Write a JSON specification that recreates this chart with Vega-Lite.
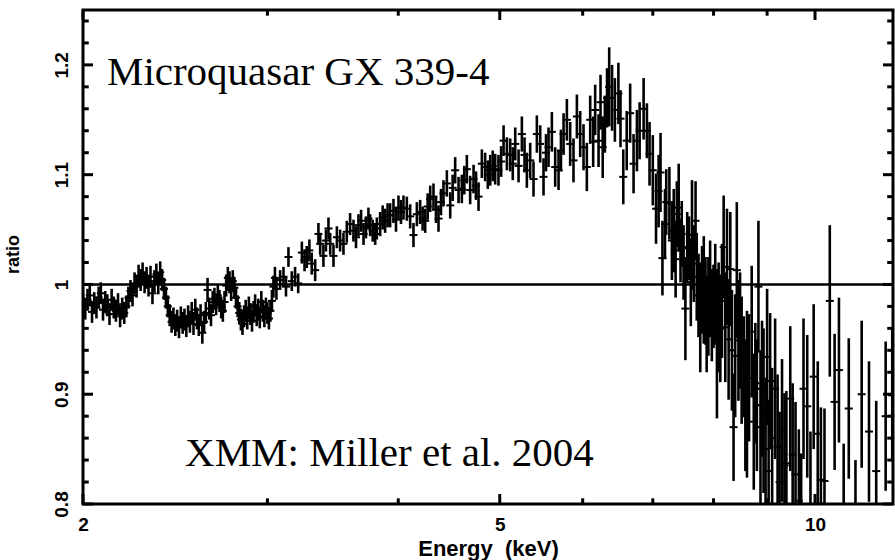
{
  "$schema": "https://vega.github.io/schema/vega-lite/v6.json",
  "width": 810,
  "height": 494,
  "autosize": {"type": "none"},
  "padding": {"left": 83, "top": 10, "right": 2, "bottom": 56},
  "background": "white",
  "config": {
    "view": {"stroke": "black", "strokeWidth": 3},
    "axis": {
      "domain": false,
      "grid": false,
      "ticks": false,
      "labelFont": "Liberation Sans",
      "labelFontWeight": "bold",
      "labelFontSize": 19,
      "labelColor": "black",
      "titleFont": "Liberation Sans",
      "titleFontWeight": "bold",
      "titleFontSize": 20,
      "titleColor": "black"
    },
    "rule": {"color": "black", "strokeWidth": 3}
  },
  "datasets": {
    "energyMajor": [{"at": 2}, {"at": 5}, {"at": 10}],
    "energyMinor": [{"at": 3}, {"at": 4}, {"at": 6}, {"at": 7}, {"at": 8}, {"at": 9}],
    "ratioMajor": [{"at": 0.8}, {"at": 0.9}, {"at": 1.0}, {"at": 1.1}, {"at": 1.2}],
    "ratioMinor": [
      {"at": 0.82}, {"at": 0.84}, {"at": 0.86}, {"at": 0.88}, {"at": 0.92}, {"at": 0.94},
      {"at": 0.96}, {"at": 0.98}, {"at": 1.02}, {"at": 1.04}, {"at": 1.06}, {"at": 1.08},
      {"at": 1.12}, {"at": 1.14}, {"at": 1.16}, {"at": 1.18}, {"at": 1.22}, {"at": 1.24}
    ],
    "spectrum": [
      {"energy": 2.00, "ratio": 0.982, "err": 0.010},
      {"energy": 2.01, "ratio": 0.978, "err": 0.010},
      {"energy": 2.02, "ratio": 0.986, "err": 0.010},
      {"energy": 2.03, "ratio": 0.990, "err": 0.010},
      {"energy": 2.04, "ratio": 0.975, "err": 0.010},
      {"energy": 2.05, "ratio": 0.983, "err": 0.010},
      {"energy": 2.06, "ratio": 0.979, "err": 0.010},
      {"energy": 2.07, "ratio": 0.988, "err": 0.010},
      {"energy": 2.08, "ratio": 0.992, "err": 0.010},
      {"energy": 2.09, "ratio": 0.977, "err": 0.010},
      {"energy": 2.10, "ratio": 0.984, "err": 0.010},
      {"energy": 2.11, "ratio": 0.981, "err": 0.010},
      {"energy": 2.12, "ratio": 0.973, "err": 0.010},
      {"energy": 2.13, "ratio": 0.986, "err": 0.010},
      {"energy": 2.14, "ratio": 0.979, "err": 0.010},
      {"energy": 2.15, "ratio": 0.976, "err": 0.010},
      {"energy": 2.16, "ratio": 0.982, "err": 0.010},
      {"energy": 2.17, "ratio": 0.971, "err": 0.010},
      {"energy": 2.18, "ratio": 0.978, "err": 0.010},
      {"energy": 2.19, "ratio": 0.974, "err": 0.010},
      {"energy": 2.20, "ratio": 0.980, "err": 0.010},
      {"energy": 2.21, "ratio": 0.988, "err": 0.010},
      {"energy": 2.22, "ratio": 0.994, "err": 0.010},
      {"energy": 2.23, "ratio": 0.990, "err": 0.010},
      {"energy": 2.24, "ratio": 1.001, "err": 0.010},
      {"energy": 2.25, "ratio": 0.998, "err": 0.010},
      {"energy": 2.26, "ratio": 1.008, "err": 0.010},
      {"energy": 2.27, "ratio": 1.004, "err": 0.010},
      {"energy": 2.28, "ratio": 1.010, "err": 0.010},
      {"energy": 2.29, "ratio": 1.002, "err": 0.010},
      {"energy": 2.30, "ratio": 1.006, "err": 0.010},
      {"energy": 2.31, "ratio": 0.999, "err": 0.010},
      {"energy": 2.32, "ratio": 1.007, "err": 0.010},
      {"energy": 2.33, "ratio": 0.992, "err": 0.010},
      {"energy": 2.34, "ratio": 1.003, "err": 0.010},
      {"energy": 2.35, "ratio": 1.009, "err": 0.010},
      {"energy": 2.36, "ratio": 1.001, "err": 0.010},
      {"energy": 2.37, "ratio": 1.011, "err": 0.010},
      {"energy": 2.38, "ratio": 1.004, "err": 0.010},
      {"energy": 2.39, "ratio": 0.996, "err": 0.010},
      {"energy": 2.40, "ratio": 0.988, "err": 0.010},
      {"energy": 2.41, "ratio": 0.980, "err": 0.010},
      {"energy": 2.42, "ratio": 0.972, "err": 0.010},
      {"energy": 2.43, "ratio": 0.966, "err": 0.010},
      {"energy": 2.44, "ratio": 0.969, "err": 0.010},
      {"energy": 2.45, "ratio": 0.963, "err": 0.010},
      {"energy": 2.46, "ratio": 0.967, "err": 0.010},
      {"energy": 2.47, "ratio": 0.961, "err": 0.010},
      {"energy": 2.48, "ratio": 0.970, "err": 0.010},
      {"energy": 2.49, "ratio": 0.965, "err": 0.010},
      {"energy": 2.50, "ratio": 0.968, "err": 0.010},
      {"energy": 2.51, "ratio": 0.962, "err": 0.010},
      {"energy": 2.52, "ratio": 0.971, "err": 0.010},
      {"energy": 2.53, "ratio": 0.966, "err": 0.010},
      {"energy": 2.54, "ratio": 0.974, "err": 0.010},
      {"energy": 2.55, "ratio": 0.964, "err": 0.010},
      {"energy": 2.56, "ratio": 0.977, "err": 0.010},
      {"energy": 2.57, "ratio": 0.969, "err": 0.010},
      {"energy": 2.58, "ratio": 0.963, "err": 0.010},
      {"energy": 2.59, "ratio": 0.972, "err": 0.010},
      {"energy": 2.60, "ratio": 0.956, "err": 0.010},
      {"energy": 2.61, "ratio": 0.966, "err": 0.010},
      {"energy": 2.62, "ratio": 0.974, "err": 0.010},
      {"energy": 2.63, "ratio": 0.995, "err": 0.011},
      {"energy": 2.64, "ratio": 0.978, "err": 0.010},
      {"energy": 2.65, "ratio": 0.972, "err": 0.010},
      {"energy": 2.66, "ratio": 0.984, "err": 0.010},
      {"energy": 2.67, "ratio": 0.987, "err": 0.010},
      {"energy": 2.68, "ratio": 0.982, "err": 0.010},
      {"energy": 2.69, "ratio": 0.990, "err": 0.010},
      {"energy": 2.70, "ratio": 0.985, "err": 0.010},
      {"energy": 2.71, "ratio": 0.979, "err": 0.010},
      {"energy": 2.72, "ratio": 0.976, "err": 0.010},
      {"energy": 2.73, "ratio": 0.984, "err": 0.010},
      {"energy": 2.74, "ratio": 0.999, "err": 0.010},
      {"energy": 2.75, "ratio": 1.006, "err": 0.010},
      {"energy": 2.76, "ratio": 1.002, "err": 0.010},
      {"energy": 2.77, "ratio": 0.995, "err": 0.010},
      {"energy": 2.78, "ratio": 1.003, "err": 0.010},
      {"energy": 2.79, "ratio": 0.997, "err": 0.010},
      {"energy": 2.80, "ratio": 0.988, "err": 0.010},
      {"energy": 2.81, "ratio": 0.980, "err": 0.010},
      {"energy": 2.82, "ratio": 0.974, "err": 0.010},
      {"energy": 2.83, "ratio": 0.968, "err": 0.010},
      {"energy": 2.84, "ratio": 0.964, "err": 0.010},
      {"energy": 2.85, "ratio": 0.971, "err": 0.010},
      {"energy": 2.86, "ratio": 0.976, "err": 0.010},
      {"energy": 2.87, "ratio": 0.969, "err": 0.010},
      {"energy": 2.88, "ratio": 0.979, "err": 0.010},
      {"energy": 2.89, "ratio": 0.973, "err": 0.010},
      {"energy": 2.90, "ratio": 0.967, "err": 0.010},
      {"energy": 2.91, "ratio": 0.975, "err": 0.010},
      {"energy": 2.92, "ratio": 0.981, "err": 0.010},
      {"energy": 2.93, "ratio": 0.972, "err": 0.010},
      {"energy": 2.94, "ratio": 0.977, "err": 0.010},
      {"energy": 2.95, "ratio": 0.970, "err": 0.010},
      {"energy": 2.96, "ratio": 0.984, "err": 0.010},
      {"energy": 2.97, "ratio": 0.976, "err": 0.010},
      {"energy": 2.98, "ratio": 0.971, "err": 0.010},
      {"energy": 2.99, "ratio": 0.978, "err": 0.010},
      {"energy": 3.00, "ratio": 0.974, "err": 0.010},
      {"energy": 3.01, "ratio": 0.969, "err": 0.010},
      {"energy": 3.02, "ratio": 0.976, "err": 0.010},
      {"energy": 3.03, "ratio": 0.985, "err": 0.010},
      {"energy": 3.04, "ratio": 0.998, "err": 0.010},
      {"energy": 3.05, "ratio": 1.006, "err": 0.010},
      {"energy": 3.06, "ratio": 0.996, "err": 0.010},
      {"energy": 3.085, "ratio": 1.004, "err": 0.009},
      {"energy": 3.108, "ratio": 1.007, "err": 0.009},
      {"energy": 3.125, "ratio": 0.998, "err": 0.009},
      {"energy": 3.142, "ratio": 1.025, "err": 0.009},
      {"energy": 3.165, "ratio": 1.003, "err": 0.009},
      {"energy": 3.188, "ratio": 1.007, "err": 0.009},
      {"energy": 3.210, "ratio": 1.001, "err": 0.009},
      {"energy": 3.236, "ratio": 1.029, "err": 0.010},
      {"energy": 3.255, "ratio": 1.022, "err": 0.010},
      {"energy": 3.271, "ratio": 1.025, "err": 0.010},
      {"energy": 3.290, "ratio": 1.031, "err": 0.010},
      {"energy": 3.307, "ratio": 1.019, "err": 0.010},
      {"energy": 3.332, "ratio": 1.013, "err": 0.010},
      {"energy": 3.356, "ratio": 1.046, "err": 0.010},
      {"energy": 3.369, "ratio": 1.037, "err": 0.010},
      {"energy": 3.393, "ratio": 1.026, "err": 0.010},
      {"energy": 3.412, "ratio": 1.040, "err": 0.010},
      {"energy": 3.431, "ratio": 1.051, "err": 0.010},
      {"energy": 3.444, "ratio": 1.037, "err": 0.010},
      {"energy": 3.469, "ratio": 1.026, "err": 0.010},
      {"energy": 3.495, "ratio": 1.043, "err": 0.010},
      {"energy": 3.520, "ratio": 1.040, "err": 0.010},
      {"energy": 3.546, "ratio": 1.037, "err": 0.010},
      {"energy": 3.572, "ratio": 1.048, "err": 0.010},
      {"energy": 3.598, "ratio": 1.055, "err": 0.010},
      {"energy": 3.625, "ratio": 1.049, "err": 0.010},
      {"energy": 3.645, "ratio": 1.043, "err": 0.010},
      {"energy": 3.665, "ratio": 1.054, "err": 0.010},
      {"energy": 3.686, "ratio": 1.058, "err": 0.010},
      {"energy": 3.706, "ratio": 1.046, "err": 0.010},
      {"energy": 3.726, "ratio": 1.052, "err": 0.010},
      {"energy": 3.746, "ratio": 1.060, "err": 0.010},
      {"energy": 3.760, "ratio": 1.054, "err": 0.010},
      {"energy": 3.781, "ratio": 1.049, "err": 0.010},
      {"energy": 3.802, "ratio": 1.046, "err": 0.010},
      {"energy": 3.816, "ratio": 1.051, "err": 0.010},
      {"energy": 3.844, "ratio": 1.055, "err": 0.011},
      {"energy": 3.865, "ratio": 1.061, "err": 0.011},
      {"energy": 3.886, "ratio": 1.058, "err": 0.011},
      {"energy": 3.907, "ratio": 1.063, "err": 0.011},
      {"energy": 3.929, "ratio": 1.063, "err": 0.011},
      {"energy": 3.958, "ratio": 1.067, "err": 0.011},
      {"energy": 3.980, "ratio": 1.059, "err": 0.011},
      {"energy": 4.002, "ratio": 1.070, "err": 0.011},
      {"energy": 4.024, "ratio": 1.066, "err": 0.011},
      {"energy": 4.046, "ratio": 1.070, "err": 0.011},
      {"energy": 4.076, "ratio": 1.069, "err": 0.011},
      {"energy": 4.106, "ratio": 1.062, "err": 0.011},
      {"energy": 4.136, "ratio": 1.045, "err": 0.011},
      {"energy": 4.167, "ratio": 1.064, "err": 0.011},
      {"energy": 4.197, "ratio": 1.066, "err": 0.011},
      {"energy": 4.220, "ratio": 1.060, "err": 0.011},
      {"energy": 4.244, "ratio": 1.058, "err": 0.011},
      {"energy": 4.267, "ratio": 1.071, "err": 0.012},
      {"energy": 4.291, "ratio": 1.078, "err": 0.012},
      {"energy": 4.322, "ratio": 1.080, "err": 0.012},
      {"energy": 4.346, "ratio": 1.068, "err": 0.012},
      {"energy": 4.370, "ratio": 1.060, "err": 0.012},
      {"energy": 4.394, "ratio": 1.075, "err": 0.012},
      {"energy": 4.418, "ratio": 1.083, "err": 0.012},
      {"energy": 4.451, "ratio": 1.092, "err": 0.012},
      {"energy": 4.484, "ratio": 1.072, "err": 0.012},
      {"energy": 4.508, "ratio": 1.088, "err": 0.012},
      {"energy": 4.533, "ratio": 1.104, "err": 0.012},
      {"energy": 4.567, "ratio": 1.086, "err": 0.012},
      {"energy": 4.600, "ratio": 1.087, "err": 0.013},
      {"energy": 4.625, "ratio": 1.095, "err": 0.013},
      {"energy": 4.651, "ratio": 1.105, "err": 0.013},
      {"energy": 4.685, "ratio": 1.086, "err": 0.013},
      {"energy": 4.720, "ratio": 1.096, "err": 0.013},
      {"energy": 4.746, "ratio": 1.090, "err": 0.013},
      {"energy": 4.772, "ratio": 1.080, "err": 0.013},
      {"energy": 4.807, "ratio": 1.110, "err": 0.013},
      {"energy": 4.842, "ratio": 1.107, "err": 0.013},
      {"energy": 4.870, "ratio": 1.100, "err": 0.013},
      {"energy": 4.896, "ratio": 1.104, "err": 0.014},
      {"energy": 4.923, "ratio": 1.108, "err": 0.014},
      {"energy": 4.950, "ratio": 1.105, "err": 0.014},
      {"energy": 4.986, "ratio": 1.104, "err": 0.014},
      {"energy": 5.015, "ratio": 1.112, "err": 0.014},
      {"energy": 5.042, "ratio": 1.131, "err": 0.014},
      {"energy": 5.079, "ratio": 1.119, "err": 0.015},
      {"energy": 5.116, "ratio": 1.118, "err": 0.015},
      {"energy": 5.145, "ratio": 1.110, "err": 0.015},
      {"energy": 5.173, "ratio": 1.128, "err": 0.015},
      {"energy": 5.211, "ratio": 1.108, "err": 0.015},
      {"energy": 5.249, "ratio": 1.137, "err": 0.016},
      {"energy": 5.280, "ratio": 1.118, "err": 0.016},
      {"energy": 5.307, "ratio": 1.104, "err": 0.016},
      {"energy": 5.346, "ratio": 1.113, "err": 0.016},
      {"energy": 5.385, "ratio": 1.096, "err": 0.016},
      {"energy": 5.425, "ratio": 1.137, "err": 0.017},
      {"energy": 5.465, "ratio": 1.128, "err": 0.017},
      {"energy": 5.505, "ratio": 1.098, "err": 0.017},
      {"energy": 5.535, "ratio": 1.120, "err": 0.017},
      {"energy": 5.566, "ratio": 1.125, "err": 0.018},
      {"energy": 5.607, "ratio": 1.139, "err": 0.018},
      {"energy": 5.648, "ratio": 1.107, "err": 0.018},
      {"energy": 5.690, "ratio": 1.104, "err": 0.018},
      {"energy": 5.720, "ratio": 1.122, "err": 0.019},
      {"energy": 5.753, "ratio": 1.137, "err": 0.019},
      {"energy": 5.795, "ratio": 1.150, "err": 0.019},
      {"energy": 5.837, "ratio": 1.128, "err": 0.020},
      {"energy": 5.880, "ratio": 1.113, "err": 0.020},
      {"energy": 5.924, "ratio": 1.153, "err": 0.020},
      {"energy": 5.967, "ratio": 1.137, "err": 0.021},
      {"energy": 6.011, "ratio": 1.125, "err": 0.021},
      {"energy": 6.055, "ratio": 1.107, "err": 0.022},
      {"energy": 6.100, "ratio": 1.150, "err": 0.022},
      {"energy": 6.140, "ratio": 1.130, "err": 0.023},
      {"energy": 6.167, "ratio": 1.159, "err": 0.023},
      {"energy": 6.213, "ratio": 1.131, "err": 0.024},
      {"energy": 6.24, "ratio": 1.166, "err": 0.025},
      {"energy": 6.27, "ratio": 1.125, "err": 0.028},
      {"energy": 6.30, "ratio": 1.146, "err": 0.026},
      {"energy": 6.33, "ratio": 1.170, "err": 0.027},
      {"energy": 6.36, "ratio": 1.180, "err": 0.036},
      {"energy": 6.40, "ratio": 1.170, "err": 0.030},
      {"energy": 6.44, "ratio": 1.159, "err": 0.029},
      {"energy": 6.49, "ratio": 1.174, "err": 0.028},
      {"energy": 6.52, "ratio": 1.151, "err": 0.026},
      {"energy": 6.56, "ratio": 1.098, "err": 0.025},
      {"energy": 6.61, "ratio": 1.131, "err": 0.027},
      {"energy": 6.66, "ratio": 1.156, "err": 0.027},
      {"energy": 6.71, "ratio": 1.110, "err": 0.027},
      {"energy": 6.76, "ratio": 1.131, "err": 0.028},
      {"energy": 6.80, "ratio": 1.140, "err": 0.026},
      {"energy": 6.86, "ratio": 1.160, "err": 0.028},
      {"energy": 6.91, "ratio": 1.140, "err": 0.025},
      {"energy": 6.95, "ratio": 1.119, "err": 0.029},
      {"energy": 7.00, "ratio": 1.104, "err": 0.032},
      {"energy": 7.05, "ratio": 1.069, "err": 0.032},
      {"energy": 7.09, "ratio": 1.085, "err": 0.033},
      {"energy": 7.12, "ratio": 1.102, "err": 0.036},
      {"energy": 7.15, "ratio": 1.024, "err": 0.034},
      {"energy": 7.19, "ratio": 1.055, "err": 0.032},
      {"energy": 7.21, "ratio": 1.075, "err": 0.030},
      {"energy": 7.26, "ratio": 1.074, "err": 0.033},
      {"energy": 7.30, "ratio": 1.040, "err": 0.036},
      {"energy": 7.33, "ratio": 1.049, "err": 0.038},
      {"energy": 7.36, "ratio": 1.023, "err": 0.035},
      {"energy": 7.38, "ratio": 1.064, "err": 0.030},
      {"energy": 7.41, "ratio": 1.070, "err": 0.040},
      {"energy": 7.44, "ratio": 1.031, "err": 0.029},
      {"energy": 7.46, "ratio": 1.046, "err": 0.030},
      {"energy": 7.49, "ratio": 1.020, "err": 0.034},
      {"energy": 7.52, "ratio": 0.978, "err": 0.047},
      {"energy": 7.55, "ratio": 1.034, "err": 0.032},
      {"energy": 7.58, "ratio": 1.033, "err": 0.029},
      {"energy": 7.61, "ratio": 1.002, "err": 0.040},
      {"energy": 7.63, "ratio": 1.045, "err": 0.050},
      {"energy": 7.66, "ratio": 1.019, "err": 0.035},
      {"energy": 7.69, "ratio": 1.058, "err": 0.036},
      {"energy": 7.71, "ratio": 1.007, "err": 0.040},
      {"energy": 7.74, "ratio": 0.990, "err": 0.038},
      {"energy": 7.77, "ratio": 0.970, "err": 0.050},
      {"energy": 7.80, "ratio": 0.995, "err": 0.040},
      {"energy": 7.83, "ratio": 0.995, "err": 0.049},
      {"energy": 7.86, "ratio": 0.985, "err": 0.040},
      {"energy": 7.88, "ratio": 0.964, "err": 0.044},
      {"energy": 7.91, "ratio": 0.980, "err": 0.045},
      {"energy": 7.94, "ratio": 0.996, "err": 0.044},
      {"energy": 7.97, "ratio": 0.972, "err": 0.042},
      {"energy": 8.00, "ratio": 0.980, "err": 0.038},
      {"energy": 8.03, "ratio": 0.992, "err": 0.045},
      {"energy": 8.06, "ratio": 0.946, "err": 0.068},
      {"energy": 8.09, "ratio": 0.970, "err": 0.050},
      {"energy": 8.12, "ratio": 0.960, "err": 0.049},
      {"energy": 8.15, "ratio": 0.985, "err": 0.052},
      {"energy": 8.18, "ratio": 1.034, "err": 0.047},
      {"energy": 8.21, "ratio": 0.961, "err": 0.050},
      {"energy": 8.24, "ratio": 1.016, "err": 0.053},
      {"energy": 8.27, "ratio": 0.950, "err": 0.055},
      {"energy": 8.30, "ratio": 1.014, "err": 0.052},
      {"energy": 8.33, "ratio": 0.940, "err": 0.055},
      {"energy": 8.36, "ratio": 0.870, "err": 0.049},
      {"energy": 8.39, "ratio": 0.935, "err": 0.056},
      {"energy": 8.42, "ratio": 1.013, "err": 0.062},
      {"energy": 8.45, "ratio": 0.949, "err": 0.055},
      {"energy": 8.48, "ratio": 0.958, "err": 0.053},
      {"energy": 8.51, "ratio": 0.931, "err": 0.058},
      {"energy": 8.55, "ratio": 0.925, "err": 0.046},
      {"energy": 8.58, "ratio": 0.890, "err": 0.060},
      {"energy": 8.61, "ratio": 0.900, "err": 0.076},
      {"energy": 8.65, "ratio": 0.915, "err": 0.058},
      {"energy": 8.70, "ratio": 0.957, "err": 0.060},
      {"energy": 8.74, "ratio": 0.875, "err": 0.062},
      {"energy": 8.77, "ratio": 0.910, "err": 0.055},
      {"energy": 8.80, "ratio": 0.890, "err": 0.060},
      {"energy": 8.83, "ratio": 0.998, "err": 0.060},
      {"energy": 8.87, "ratio": 0.870, "err": 0.070},
      {"energy": 8.90, "ratio": 0.905, "err": 0.062},
      {"energy": 8.93, "ratio": 0.885, "err": 0.075},
      {"energy": 8.97, "ratio": 0.850, "err": 0.065},
      {"energy": 9.00, "ratio": 0.934, "err": 0.062},
      {"energy": 9.03, "ratio": 0.830, "err": 0.065},
      {"energy": 9.06, "ratio": 0.912, "err": 0.062},
      {"energy": 9.10, "ratio": 0.860, "err": 0.064},
      {"energy": 9.16, "ratio": 0.905, "err": 0.064},
      {"energy": 9.21, "ratio": 0.852, "err": 0.066},
      {"energy": 9.25, "ratio": 0.820, "err": 0.064},
      {"energy": 9.30, "ratio": 0.867, "err": 0.065},
      {"energy": 9.35, "ratio": 0.835, "err": 0.066},
      {"energy": 9.39, "ratio": 0.837, "err": 0.066},
      {"energy": 9.47, "ratio": 0.896, "err": 0.066},
      {"energy": 9.52, "ratio": 0.845, "err": 0.065},
      {"energy": 9.58, "ratio": 0.827, "err": 0.066},
      {"energy": 9.65, "ratio": 0.803, "err": 0.065},
      {"energy": 9.70, "ratio": 0.780, "err": 0.066},
      {"energy": 9.75, "ratio": 0.905, "err": 0.064},
      {"energy": 9.83, "ratio": 0.889, "err": 0.065},
      {"energy": 9.90, "ratio": 0.800, "err": 0.066},
      {"energy": 9.97, "ratio": 0.916, "err": 0.066},
      {"energy": 10.06, "ratio": 0.864, "err": 0.066},
      {"energy": 10.13, "ratio": 0.822, "err": 0.066},
      {"energy": 10.21, "ratio": 0.821, "err": 0.066},
      {"energy": 10.33, "ratio": 0.985, "err": 0.069},
      {"energy": 10.44, "ratio": 0.893, "err": 0.062},
      {"energy": 10.54, "ratio": 0.922, "err": 0.066},
      {"energy": 10.65, "ratio": 0.790, "err": 0.065},
      {"energy": 10.77, "ratio": 0.887, "err": 0.064},
      {"energy": 10.93, "ratio": 0.775, "err": 0.065},
      {"energy": 11.08, "ratio": 0.900, "err": 0.067},
      {"energy": 11.26, "ratio": 0.866, "err": 0.064},
      {"energy": 11.44, "ratio": 0.830, "err": 0.064},
      {"energy": 11.68, "ratio": 0.880, "err": 0.068},
      {"energy": 11.85, "ratio": 0.899, "err": 0.060}
    ]
  },
  "layer": [
    {
      "data": {"name": "spectrum"},
      "mark": {"type": "errorbar", "ticks": false, "thickness": 2.6, "color": "black", "clip": true},
      "encoding": {
        "x": {
          "field": "energy",
          "type": "quantitative",
          "scale": {"type": "log", "domain": [2, 11.87], "nice": false},
          "axis": {
            "orient": "bottom",
            "values": [2, 5, 10],
            "format": "~g",
            "labelPadding": 11,
            "labelFlush": false,
            "labelOverlap": false,
            "labelAngle": 0,
            "labelAlign": "center",
            "labelBaseline": "top",
            "title": "Energy\u00a0 (keV)",
            "titleFontSize": 22,
            "titleY": 51,
            "titleBaseline": "alphabetic"
          }
        },
        "y": {
          "field": "ratio",
          "type": "quantitative",
          "scale": {"domain": [0.8, 1.25], "nice": false, "zero": false},
          "axis": {
            "orient": "left",
            "values": [0.8, 0.9, 1, 1.1, 1.2],
            "format": "~g",
            "labelPadding": 16,
            "labelFlush": false,
            "labelOverlap": false,
            "labelAngle": -90,
            "labelAlign": "center",
            "labelBaseline": "alphabetic",
            "title": "ratio",
            "titleFontSize": 18,
            "titleAngle": -90,
            "titleAlign": "center",
            "titleBaseline": "alphabetic",
            "titleX": -65,
            "titleY": 244
          }
        },
        "yError": {"field": "err"}
      }
    },
    {
      "data": {"name": "spectrum"},
      "mark": {"type": "tick", "orient": "horizontal", "size": 8, "thickness": 2, "color": "black", "opacity": 1, "clip": true},
      "encoding": {
        "x": {"field": "energy", "type": "quantitative", "axis": null},
        "y": {"field": "ratio", "type": "quantitative", "axis": null}
      }
    },
    {
      "data": {"values": [{}]},
      "mark": {"type": "rule", "strokeWidth": 2.5},
      "encoding": {
        "y": {"datum": 1, "type": "quantitative", "axis": null}
      }
    },
    {
      "data": {"name": "energyMajor"},
      "mark": {"type": "rule"},
      "encoding": {
        "x": {"field": "at", "type": "quantitative", "axis": null},
        "y": {"datum": 0.8, "type": "quantitative", "axis": null},
        "y2": {"datum": 0.8091}
      }
    },
    {
      "data": {"name": "energyMajor"},
      "mark": {"type": "rule"},
      "encoding": {
        "x": {"field": "at", "type": "quantitative", "axis": null},
        "y": {"datum": 1.25, "type": "quantitative", "axis": null},
        "y2": {"datum": 1.2409}
      }
    },
    {
      "data": {"name": "energyMinor"},
      "mark": {"type": "rule"},
      "encoding": {
        "x": {"field": "at", "type": "quantitative", "axis": null},
        "y": {"datum": 0.8, "type": "quantitative", "axis": null},
        "y2": {"datum": 0.8052}
      }
    },
    {
      "data": {"name": "energyMinor"},
      "mark": {"type": "rule"},
      "encoding": {
        "x": {"field": "at", "type": "quantitative", "axis": null},
        "y": {"datum": 1.25, "type": "quantitative", "axis": null},
        "y2": {"datum": 1.2448}
      }
    },
    {
      "data": {"name": "ratioMajor"},
      "mark": {"type": "rule"},
      "encoding": {
        "y": {"field": "at", "type": "quantitative", "axis": null},
        "x": {"datum": 2, "type": "quantitative", "axis": null},
        "x2": {"datum": 2.0445}
      }
    },
    {
      "data": {"name": "ratioMajor"},
      "mark": {"type": "rule"},
      "encoding": {
        "y": {"field": "at", "type": "quantitative", "axis": null},
        "x": {"datum": 11.87, "type": "quantitative", "axis": null},
        "x2": {"datum": 11.612}
      }
    },
    {
      "data": {"name": "ratioMinor"},
      "mark": {"type": "rule"},
      "encoding": {
        "y": {"field": "at", "type": "quantitative", "axis": null},
        "x": {"datum": 2, "type": "quantitative", "axis": null},
        "x2": {"datum": 2.0255}
      }
    },
    {
      "data": {"name": "ratioMinor"},
      "mark": {"type": "rule"},
      "encoding": {
        "y": {"field": "at", "type": "quantitative", "axis": null},
        "x": {"datum": 11.87, "type": "quantitative", "axis": null},
        "x2": {"datum": 11.72}
      }
    },
    {
      "data": {"values": [{}]},
      "mark": {"type": "text", "font": "Liberation Serif", "fontSize": 41, "align": "left", "baseline": "alphabetic", "color": "black"},
      "encoding": {
        "x": {"datum": 2.108, "type": "quantitative", "axis": null},
        "y": {"datum": 1.1817, "type": "quantitative", "axis": null},
        "text": {"value": "Microquasar GX 339-4"}
      }
    },
    {
      "data": {"values": [{}]},
      "mark": {"type": "text", "font": "Liberation Serif", "fontSize": 41, "align": "left", "baseline": "alphabetic", "color": "black"},
      "encoding": {
        "x": {"datum": 2.503, "type": "quantitative", "axis": null},
        "y": {"datum": 0.8346, "type": "quantitative", "axis": null},
        "text": {"value": "XMM: Miller et al. 2004"}
      }
    }
  ],
  "resolve": {"axis": {"x": "independent", "y": "independent"}}
}
